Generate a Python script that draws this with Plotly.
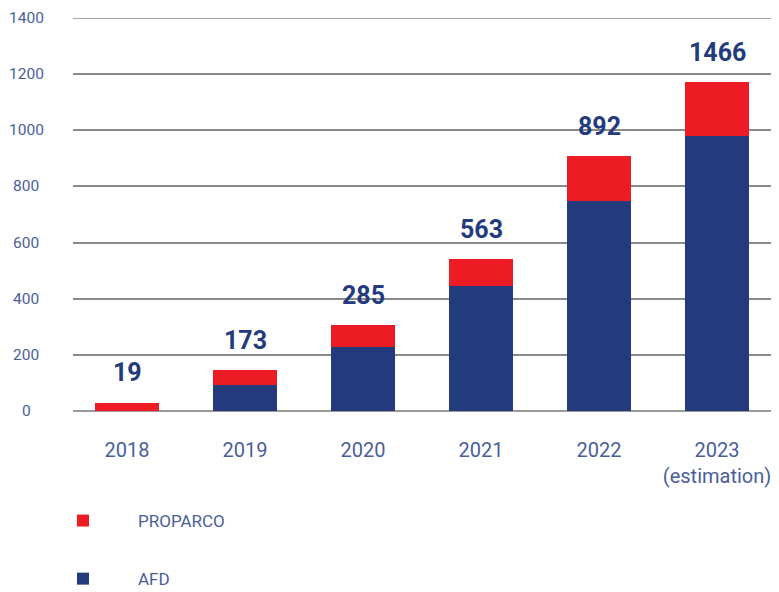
import plotly.graph_objects as go

years = ["2018", "2019", "2020", "2021", "2022", "2023<br>(estimation)"]
afd = [0, 93, 228, 445, 748, 978]
proparco = [30, 53, 78, 95, 159, 193]
total_labels = [19, 173, 285, 563, 892, 1466]
y_ticks = [0, 200, 400, 600, 800, 1000, 1200, 1400]

RED = "#ED1C24"
BLUE = "#233B7C"
TXT = "#4A5E9C"
FONT = "Roboto"
GRID = "#8a8a8a"

W, H = 771, 584  # page has an 8px body margin

fig = go.Figure()
fig.add_trace(go.Bar(x=years, y=afd, name="AFD", marker=dict(color=BLUE, line=dict(width=0)),
                     legendgroup="a", legendrank=2))
fig.add_trace(go.Bar(x=years, y=proparco, name="PROPARCO", marker=dict(color=RED, line=dict(width=0)),
                     legendgroup="p", legendrank=1))

totals = [a + p for a, p in zip(afd, proparco)]
for i, (tv, lab) in enumerate(zip(totals, total_labels)):
    fig.add_annotation(x=i, y=tv, text=f"<b>{lab}</b>", showarrow=False,
                       yanchor="middle", yshift=30,
                       font=dict(family=FONT, size=25, color=BLUE))

for t in y_ticks:
    fig.add_annotation(xref="paper", x=(18 - 65) / 706, y=t, text=str(t), showarrow=False,
                       xanchor="center", yanchor="middle",
                       font=dict(family=FONT, size=15.5, color=TXT))

# top gridline (plotly skips the gridline at the range edge)
fig.add_shape(type="line", xref="paper", x0=0, x1=1, y0=y_ticks[-1], y1=y_ticks[-1],
              line=dict(color=GRID, width=1.6), layer="below")

fig.update_layout(
    width=W, height=H,
    margin=dict(l=65, r=0, t=10, b=181, autoexpand=False),
    barmode="stack", bargap=0.458,
    plot_bgcolor="white", paper_bgcolor="white",
    font=dict(family=FONT, color=TXT),
    legend=dict(xref="container", yref="container", x=20 / W, y=1 - 495 / H,
                xanchor="left", yanchor="top", traceorder="grouped",
                tracegroupgap=33, itemwidth=100,
                font=dict(family=FONT, size=17, color=TXT)),
    showlegend=True,
)
fig.update_xaxes(type="category", range=[-0.458, 5.525], showgrid=False, showline=False, ticks="",
                 tickfont=dict(family=FONT, size=20, color=TXT), ticklabelstandoff=25)
fig.update_yaxes(range=[0, 1400], tickvals=y_ticks, showticklabels=False,
                 showgrid=True, gridcolor=GRID, gridwidth=1.6,
                 zeroline=True, zerolinecolor="#9a9a9a", zerolinewidth=2)

fig.write_html("out.html")
